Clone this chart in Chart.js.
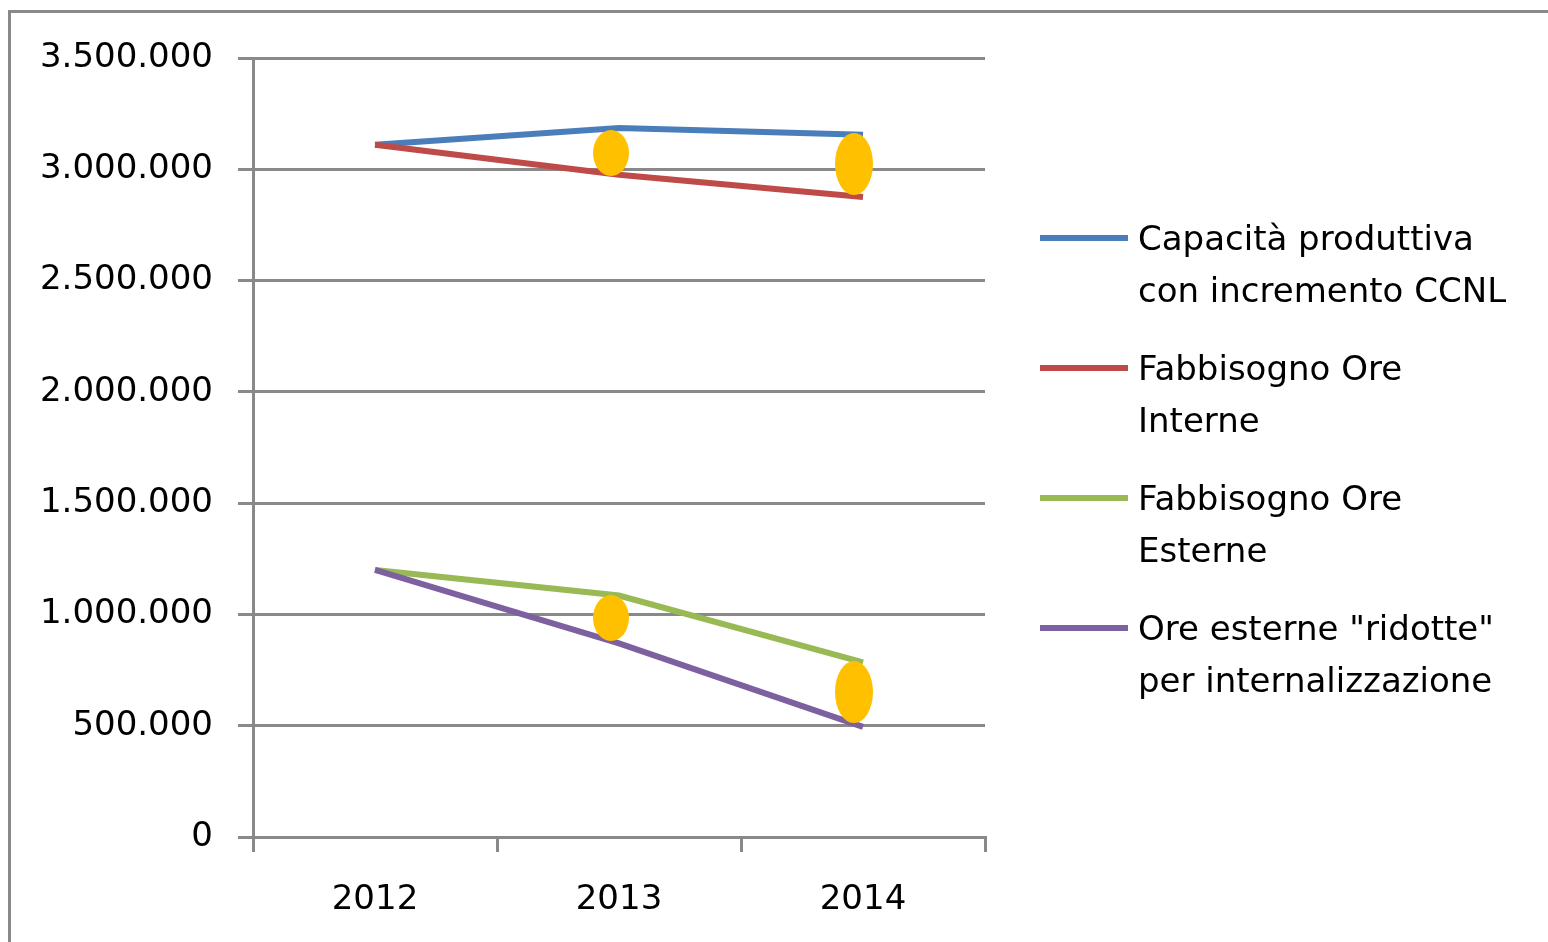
<!DOCTYPE html>
<html>
<head>
<meta charset="utf-8">
<script src="https://cdn.jsdelivr.net/npm/chart.js@4.4.0/dist/chart.umd.min.js"></script>
<style>
  html, body { margin: 0; padding: 0; background: #fff; }
  canvas { display: block; }
</style>
</head>
<body>
<canvas id="chart" width="1548" height="942"></canvas>
<script>
const years = ["2012", "2013", "2014"];
const capacita = [3110000, 3185000, 3155000];
const fabbInterne = [3110000, 2975000, 2875000];
const fabbEsterne = [1200000, 1085000, 785000];
const oreRidotte = [1200000, 870000, 495000];
// yellow highlight ovals drawn on the picture
const evidenzaAlta = [null, 3073000, 3024000];
const evidenzaBassa = [null, 984000, 651000];
const seriesLabels = [
  ["Capacità produttiva", "con incremento CCNL"],
  ["Fabbisogno Ore", "Interne"],
  ["Fabbisogno Ore", "Esterne"],
  ['Ore esterne "ridotte"', "per internalizzazione"]
];
const seriesColors = ["#4a7ebb", "#be4b48", "#98b954", "#7d60a0"];

const grey = "#898989";
const font = { family: "DejaVu Sans", size: 34 };

function oval(w, h, shift) {
  const c = document.createElement("canvas");
  c.width = w + 2 * shift;
  c.height = h;
  const g = c.getContext("2d");
  g.fillStyle = "#ffc000";
  g.beginPath();
  g.ellipse(c.width / 2 - shift, h / 2, w / 2, h / 2, 0, 0, Math.PI * 2);
  g.fill();
  return c;
}
const smallOval = oval(36, 46, 8);
const bigOval = oval(38, 62, 9);

const frame = {
  id: "frame",
  beforeDraw(chart) {
    const ctx = chart.ctx;
    ctx.save();
    ctx.fillStyle = "#fff";
    ctx.fillRect(0, 0, chart.width, chart.height);
    ctx.strokeStyle = grey;
    ctx.lineWidth = 3;
    ctx.beginPath();
    ctx.moveTo(9.5, chart.height);
    ctx.lineTo(9.5, 11.5);
    ctx.lineTo(chart.width, 11.5);
    ctx.stroke();
    ctx.restore();
  }
};

// legend on the right, two text lines per series (built-in legend is capped in width)
const sideLegend = {
  id: "sideLegend",
  afterDraw(chart) {
    const ctx = chart.ctx;
    const x0 = chart.chartArea.right + 55;
    let y = 241;
    ctx.save();
    ctx.font = "34px 'DejaVu Sans'";
    ctx.textBaseline = "middle";
    ctx.textAlign = "left";
    chart.data.datasets.slice(0, 4).forEach(ds => {
      ctx.strokeStyle = ds.borderColor;
      ctx.lineWidth = 6;
      ctx.beginPath();
      ctx.moveTo(x0, y - 3);
      ctx.lineTo(x0 + 88, y - 3);
      ctx.stroke();
      ctx.fillStyle = "#000";
      ds.label.forEach((t, k) => ctx.fillText(t, x0 + 98, y + k * 52));
      y += 130;
    });
    ctx.restore();
  }
};

const lineSet = (i, data) => ({
  label: seriesLabels[i],
  data: data,
  borderColor: seriesColors[i],
  backgroundColor: seriesColors[i],
  borderWidth: 6,
  pointRadius: 0,
  tension: 0,
  fill: false,
  order: 4 - i
});

new Chart(document.getElementById("chart"), {
  type: "line",
  data: {
    labels: years,
    datasets: [
      lineSet(0, capacita),
      lineSet(1, fabbInterne),
      lineSet(2, fabbEsterne),
      lineSet(3, oreRidotte),
      { label: "alta", data: evidenzaAlta, showLine: false, pointRadius: 10,
        pointStyle: [smallOval, smallOval, bigOval], order: 0 },
      { label: "bassa", data: evidenzaBassa, showLine: false, pointRadius: 10,
        pointStyle: [smallOval, smallOval, bigOval], order: 0 }
    ]
  },
  options: {
    responsive: false,
    animation: false,
    layout: { padding: { top: 58, right: 563, bottom: 0, left: 0 } },
    plugins: {
      tooltip: { enabled: false },
      legend: { display: false }
    },
    scales: {
      x: {
        offset: true,
        grid: { offset: true, drawOnChartArea: false, tickLength: 15, color: grey, lineWidth: 3 },
        border: { color: grey, width: 3 },
        ticks: { font: font, color: "#000", padding: 28 },
        afterFit: s => { s.height = 105; }
      },
      y: {
        min: 0,
        max: 3500000,
        ticks: {
          stepSize: 500000,
          font: font,
          color: "#000",
          padding: 25,
          callback: v => String(v).replace(/\B(?=(\d{3})+(?!\d))/g, ".")
        },
        grid: { tickLength: 15, color: grey, lineWidth: 3 },
        border: { color: grey, width: 3 },
        afterFit: s => { s.width = 253; }
      }
    }
  },
  plugins: [frame, sideLegend]
});
</script>
</body>
</html>
